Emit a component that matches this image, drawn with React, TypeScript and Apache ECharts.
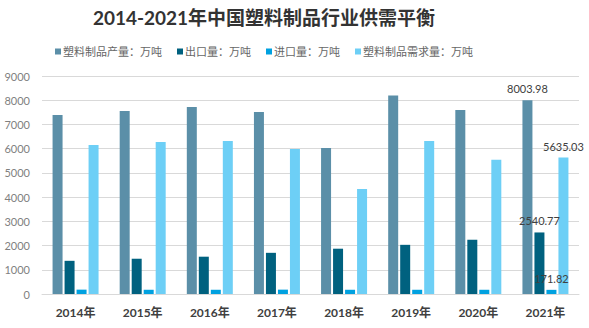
import React, { useEffect, useRef } from "react";
import * as echarts from "echarts";

const categories = ["2014年", "2015年", "2016年", "2017年", "2018年", "2019年", "2020年", "2021年"];
const production = [7390, 7550, 7720, 7515, 6030, 8190, 7600, 8003.98];
const exportVol = [1370, 1456, 1540, 1700, 1870, 2030, 2240, 2540.77];
const importVol = [180, 175, 175, 180, 175, 175, 175, 171.82];
const demand = [6150, 6280, 6320, 5990, 4340, 6320, 5540, 5635.03];
const seriesNames = ["塑料制品产量：万吨", "出口量：万吨", "进口量：万吨", "塑料制品需求量：万吨"];
const colors = ["#5B8FA8", "#00617F", "#00A1E0", "#6DCFF6"];

const FONT = "Lato, 'Noto Sans CJK SC', sans-serif";

function withLastLabel(arr: number[]) {
  return arr.map((v, i) =>
    i === arr.length - 1
      ? { value: v, label: { show: true, position: "top", distance: 6, color: "#404040", fontSize: 11, fontFamily: FONT, formatter: String(v) } }
      : v
  );
}

export default function App() {
  const ref = useRef<HTMLDivElement>(null);
  useEffect(() => {
    if (!ref.current) return;
    const chart = echarts.init(ref.current, null, { renderer: "svg" });
    const datasets = [production, exportVol, importVol, demand];
    chart.setOption({
      animation: false,
      title: {
        text: "2014-2021年中国塑料制品行业供需平衡",
        left: 259,
        textAlign: "center",
        top: 3,
        textStyle: { fontSize: 19, fontWeight: "bold", color: "#333333", fontFamily: FONT },
      },
      legend: {
        top: 41,
        left: 50,
        itemWidth: 6,
        itemHeight: 6,
        itemGap: 15,
        icon: "rect",
        textStyle: { fontSize: 11, color: "#666666", fontFamily: FONT, padding: [0, 0, 0, -3] },
        data: seriesNames,
      },
      grid: { left: 42, right: 10, top: 76, bottom: 34 },
      xAxis: {
        type: "category",
        data: categories,
        axisLine: { lineStyle: { color: "#D9D9D9" } },
        axisTick: { show: false },
        axisLabel: { color: "#404040", fontWeight: "bold", fontSize: 12, margin: 12, fontFamily: FONT },
      },
      yAxis: {
        type: "value",
        min: 0,
        max: 9000,
        interval: 1000,
        axisLine: { show: false },
        axisTick: { show: false },
        splitLine: { lineStyle: { color: "#D9D9D9" } },
        axisLabel: { color: "#7F7F7F", fontSize: 11, margin: 12, fontFamily: FONT, formatter: (v: number) => String(v) },
      },
      series: seriesNames.map((name, i) => ({
        name,
        type: "bar",
        barWidth: 10,
        barGap: "20%",
        itemStyle: { color: colors[i] },
        data: withLastLabel(datasets[i]),
      })),
    });
    return () => chart.dispose();
  }, []);
  return <div ref={ref} style={{ width: 589, height: 328, position: "absolute", left: 0, top: 0, background: "#fff" }} />;
}
